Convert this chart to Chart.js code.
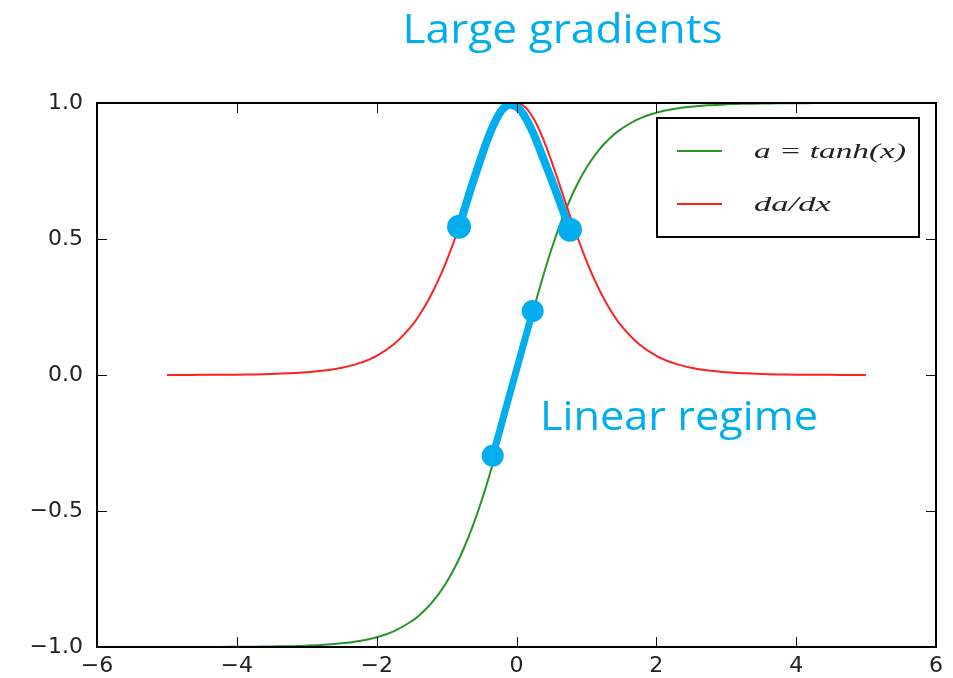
<!DOCTYPE html>
<html>
<head>
<meta charset="utf-8">
<title>tanh and its derivative</title>
<script src="https://cdn.jsdelivr.net/npm/chart.js@4.4.1/dist/chart.umd.min.js"></script>
<style>
  html, body { margin: 0; padding: 0; background: #fff; }
  canvas { display: block; }
</style>
</head>
<body>
<canvas id="chart" width="953" height="678"></canvas>
<script>
// Sample positions along x (denser around the origin)
const xValues = [-5, -4.75, -4.5, -4.25, -4, -3.75, -3.5, -3.25, -3, -2.75, -2.5, -2.25, -2, -1.75, -1.5,
  -1.375, -1.25, -1.125, -1, -0.875, -0.75, -0.625, -0.5, -0.375, -0.25, -0.125,
  0, 0.125, 0.25, 0.375, 0.5, 0.625, 0.75, 0.875, 1, 1.125, 1.25, 1.375,
  1.5, 1.75, 2, 2.25, 2.5, 2.75, 3, 3.25, 3.5, 3.75, 4, 4.25, 4.5, 4.75, 5];

// a = tanh(x)
const activationValues = [-0.99991, -0.99985, -0.99975, -0.99959, -0.99933, -0.99889, -0.99818, -0.99700, -0.99505, -0.99186,
  -0.98661, -0.97803, -0.96403, -0.94138, -0.90515,
  -0.87983, -0.84828, -0.80930, -0.76159, -0.70391, -0.63515, -0.55460, -0.46212, -0.35836, -0.24492, -0.12435,
  0, 0.12435, 0.24492, 0.35836, 0.46212, 0.55460, 0.63515, 0.70391, 0.76159, 0.80930, 0.84828, 0.87983,
  0.90515, 0.94138, 0.96403, 0.97803, 0.98661, 0.99186, 0.99505, 0.99700, 0.99818, 0.99889, 0.99933, 0.99959, 0.99975, 0.99985, 0.99991];

// da/dx
const slopeValues = [0.0002, 0.0003, 0.0005, 0.0008, 0.0013, 0.0022, 0.0036, 0.0060, 0.0099, 0.0162,
  0.0266, 0.0435, 0.0707, 0.1138, 0.1807,
  0.2259, 0.2805, 0.3450, 0.4200, 0.5045, 0.5966, 0.6924, 0.7864, 0.8716, 0.9400, 0.9845,
  1.0000, 0.9845, 0.9400, 0.8716, 0.7864, 0.6924, 0.5966, 0.5045, 0.4200, 0.3450, 0.2805, 0.2259,
  0.1807, 0.1138, 0.0707, 0.0435, 0.0266, 0.0162, 0.0099, 0.0060, 0.0036, 0.0022, 0.0013, 0.0008, 0.0005, 0.0003, 0.0002];

// Hand-drawn highlight over the peak of da/dx
const peakX = [-0.822, -0.55, -0.30, -0.107, 0.10, 0.40, 0.765];
const peakY = [0.545, 0.765, 0.935, 0.993, 0.958, 0.785, 0.534];

// Highlight along the near-linear middle of tanh
const linearX = [-0.34, 0.232];
const linearY = [-0.297, 0.235];

// Axis ticks
const xTicks = [-6, -4, -2, 0, 2, 4, 6];
const yTicks = [-1.0, -0.5, 0.0, 0.5, 1.0];

// Callout texts
const headline = 'Large gradients';
const headlineX = 0.658;
const regimeLabel = 'Linear regime';
const regimeX = 0.336;
const regimeY = -0.201;

const legendLabels = ['a = tanh(x)', 'da/dx'];

const GREEN = 'rgb(40,148,40)';
const RED = 'rgb(255,32,32)';
const BLUE = '#00aeef';

const toPoints = (xs, ys) => xs.map((x, i) => ({ x: x, y: ys[i] }));
const minus = s => String(s).replace('-', '\u2212');

// Draw text squeezed or stretched to a given width
function fitText(ctx, text, x, y, width) {
  const w = ctx.measureText(text).width;
  ctx.save();
  ctx.translate(x, y);
  ctx.scale(width / w, 1);
  ctx.fillText(text, 0, 0);
  ctx.restore();
}

const framePlugin = {
  id: 'frame',
  afterDatasetsDraw(chart) {
    const { ctx, chartArea: a, scales } = chart;
    ctx.save();
    ctx.strokeStyle = '#111';
    ctx.lineWidth = 1;
    ctx.beginPath();
    xTicks.forEach(v => {
      const px = Math.round(scales.x.getPixelForValue(v)) + 0.5;
      ctx.moveTo(px, a.bottom); ctx.lineTo(px, a.bottom - 10);
      ctx.moveTo(px, a.top); ctx.lineTo(px, a.top + 10);
    });
    yTicks.forEach(v => {
      const py = Math.round(scales.y.getPixelForValue(v)) + 0.5;
      ctx.moveTo(a.left, py); ctx.lineTo(a.left + 10, py);
      ctx.moveTo(a.right, py); ctx.lineTo(a.right - 10, py);
    });
    ctx.stroke();
    ctx.strokeStyle = '#000';
    ctx.lineWidth = 2;
    ctx.strokeRect(a.left, a.top, a.right - a.left, a.bottom - a.top);
    ctx.restore();
  },
  afterDraw(chart) {
    const { ctx, chartArea: a, scales } = chart;
    ctx.save();

    // Legend box in the upper right of the plot
    const bw = 262, bh = 119;
    const bx = a.right - 17 - bw, by = a.top + 15;
    ctx.fillStyle = '#fff';
    ctx.fillRect(bx, by, bw, bh);
    ctx.strokeStyle = '#000';
    ctx.lineWidth = 2;
    ctx.strokeRect(bx, by, bw, bh);
    const rows = [by + 33, by + 86];
    const widths = [152, 77];
    chart.data.datasets.slice(0, 2).forEach((ds, i) => {
      ctx.strokeStyle = ds.borderColor;
      ctx.lineWidth = 2;
      ctx.beginPath();
      ctx.moveTo(bx + 20, rows[i]);
      ctx.lineTo(bx + 65, rows[i]);
      ctx.stroke();
      ctx.fillStyle = '#222';
      ctx.font = 'italic 22px "Liberation Serif", serif';
      ctx.textBaseline = 'middle';
      ctx.textAlign = 'left';
      fitText(ctx, ds.label, bx + 97, rows[i] + 1, widths[i]);
    });

    // Callouts
    ctx.fillStyle = BLUE;
    ctx.textBaseline = 'alphabetic';
    ctx.textAlign = 'left';
    ctx.font = '40px "Open Sans", sans-serif';
    const hx = scales.x.getPixelForValue(headlineX);
    fitText(ctx, headline, hx - 160, a.top - 60, 320);
    fitText(ctx, regimeLabel, scales.x.getPixelForValue(regimeX), scales.y.getPixelForValue(regimeY), 278);
    ctx.restore();
  }
};

const peakRadius = peakX.map((_, i) => (i === 0 || i === peakX.length - 1) ? 12 : 0);

new Chart(document.getElementById('chart'), {
  type: 'line',
  data: {
    datasets: [
      {
        label: legendLabels[0],
        data: toPoints(xValues, activationValues),
        borderColor: GREEN,
        borderWidth: 2,
        pointRadius: 0,
        tension: 0.4,
        order: 3
      },
      {
        label: legendLabels[1],
        data: toPoints(xValues, slopeValues),
        borderColor: RED,
        borderWidth: 2,
        pointRadius: 0,
        tension: 0.4,
        order: 2
      },
      {
        label: 'peak',
        data: toPoints(peakX, peakY),
        borderColor: BLUE,
        backgroundColor: BLUE,
        borderWidth: 8,
        borderCapStyle: 'round',
        borderJoinStyle: 'round',
        tension: 0.4,
        pointRadius: peakRadius,
        pointBorderWidth: 0,
        order: 0
      },
      {
        label: 'linear',
        data: toPoints(linearX, linearY),
        borderColor: BLUE,
        backgroundColor: BLUE,
        borderWidth: 7,
        borderCapStyle: 'round',
        pointRadius: 11,
        pointBorderWidth: 0,
        order: 1
      }
    ]
  },
  options: {
    responsive: false,
    animation: false,
    events: [],
    layout: { padding: { top: 103, right: 17, left: 0, bottom: 0 } },
    plugins: {
      legend: { display: false },
      tooltip: { enabled: false },
      title: { display: false }
    },
    scales: {
      x: {
        type: 'linear',
        min: -6,
        max: 6,
        grid: { display: false, drawTicks: false },
        border: { display: false },
        afterBuildTicks: s => { s.ticks = xTicks.map(v => ({ value: v })); },
        afterFit: s => { s.height = 31; },
        ticks: {
          padding: 6,
          color: '#222',
          font: { family: '"DejaVu Sans", sans-serif', size: 22 },
          callback: v => minus(v)
        }
      },
      y: {
        type: 'linear',
        min: -1,
        max: 1,
        grid: { display: false, drawTicks: false },
        border: { display: false },
        afterBuildTicks: s => { s.ticks = yTicks.map(v => ({ value: v })); },
        afterFit: s => { s.width = 97; },
        ticks: {
          padding: 14,
          color: '#222',
          font: { family: '"DejaVu Sans", sans-serif', size: 22 },
          callback: v => minus(Number(v).toFixed(1))
        }
      }
    }
  },
  plugins: [framePlugin]
});
</script>
</body>
</html>
